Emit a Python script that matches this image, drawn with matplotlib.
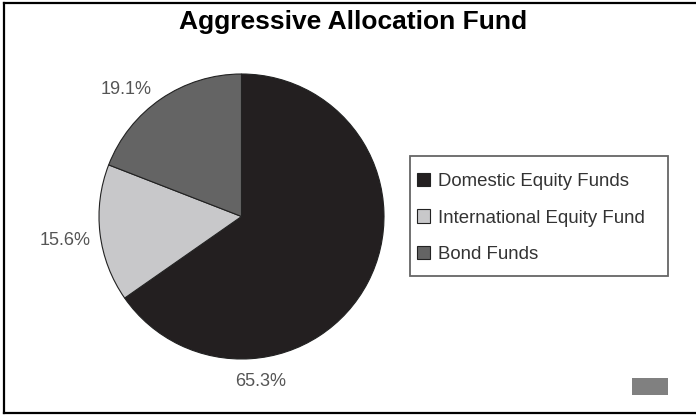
import matplotlib
matplotlib.use("Agg")
import matplotlib.pyplot as plt
from matplotlib.patches import Rectangle
from matplotlib.lines import Line2D

# ---- data ----
categories = ["Domestic Equity Funds", "International Equity Fund", "Bond Funds"]
shares = [65.3, 15.6, 19.1]
title = "Aggressive Allocation Fund"

# ---- style ----
colors = ["#231f20", "#c8c8ca", "#646464"]
label_pos = [(0.137, -1.161), (-1.235, -0.165), (-0.81, 0.888)]

plt.rcParams['font.family'] = ['Liberation Sans', 'DejaVu Sans']

W, H = 696, 415
fig = plt.figure(figsize=(W / 100, H / 100), dpi=100)
fig.patch.set_facecolor("white")

cx, cy, r = 241.5, 415 - 216.5, 142.5
ax = fig.add_axes([(cx - r) / W, (cy - r) / H, 2 * r / W, 2 * r / H])
wedges, _ = ax.pie(shares, colors=colors, startangle=90, counterclock=False,
                   radius=1, wedgeprops=dict(edgecolor="#222222", linewidth=0.8))
ax.set_xlim(-1, 1)
ax.set_ylim(-1, 1)
ax.set_aspect("equal")
ax.axis("off")

for v, (lx, ly) in zip(shares, label_pos):
    ax.text(lx, ly, f"{v:.1f}%", ha="center", va="center", fontsize=13,
            color="#555555", clip_on=False)

fig.text(353 / W, 1 - 22.5 / H, title, ha="center", va="center",
         fontsize=19, fontweight="bold", color="black")

# legend
leg = fig.legend(wedges, categories, loc="upper left",
                 bbox_to_anchor=(413 / W, 1 - 169 / H), frameon=False,
                 fontsize=13.4, handlelength=0.72, handleheight=0.72,
                 handletextpad=0.45, labelspacing=1.05, borderpad=0.2,
                 borderaxespad=0)
for t in leg.get_texts():
    t.set_color("#333333")

# legend frame
fig.patches.append(Rectangle((410 / W, 1 - 276 / H), 258 / W, 120 / H,
                             transform=fig.transFigure, fill=False,
                             edgecolor="#666666", linewidth=1.3))

# small gray block bottom right
fig.patches.append(Rectangle((632 / W, 1 - 395 / H), 36 / W, 17 / H,
                             transform=fig.transFigure, facecolor="#808080",
                             edgecolor="none"))

# outer border (open on right)
for xs, ys in [([3.5, 3.5], [3, 412.5]), ([3.5, 700], [3, 3]),
               ([3.5, 700], [412.5, 412.5])]:
    fig.add_artist(Line2D([x / W for x in xs], [1 - y / H for y in ys],
                          transform=fig.transFigure, color="black",
                          linewidth=1.6))

fig.savefig("out.png", dpi=100)
